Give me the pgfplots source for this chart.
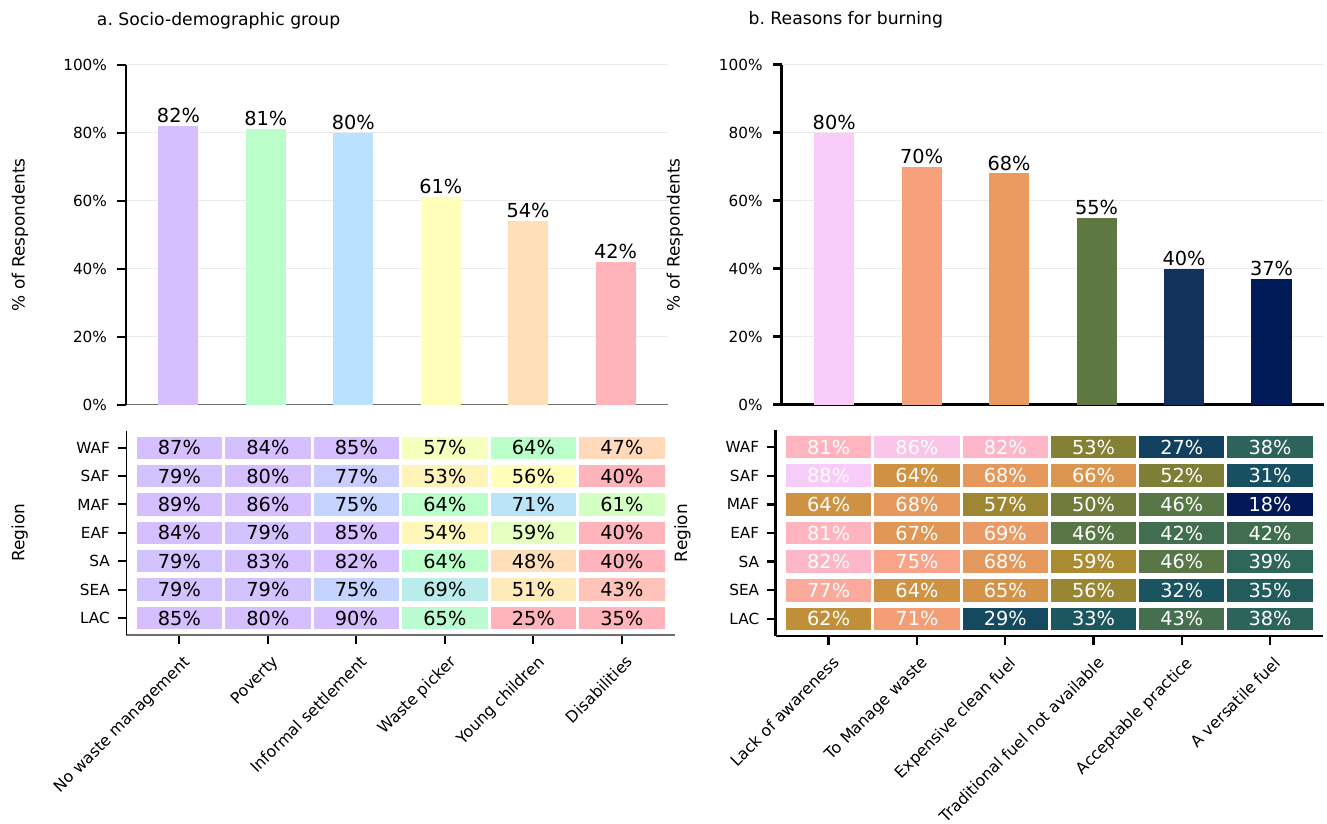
\documentclass[border=0pt]{standalone}
\usepackage{fontspec}
\setmainfont{DejaVu Sans}
\usepackage{pgfplots}
\pgfplotsset{compat=1.18}
\frenchspacing

% bar colours
\definecolor{barA1}{RGB}{213,191,255}
\definecolor{barA2}{RGB}{186,255,201}
\definecolor{barA3}{RGB}{186,225,255}
\definecolor{barA4}{RGB}{255,255,186}
\definecolor{barA5}{RGB}{255,223,186}
\definecolor{barA6}{RGB}{255,179,186}
\definecolor{barB1}{RGB}{248,204,248}
\definecolor{barB2}{RGB}{246,160,124}
\definecolor{barB3}{RGB}{233,154,92}
\definecolor{barB4}{RGB}{94,120,66}
\definecolor{barB5}{RGB}{16,50,91}
\definecolor{barB6}{RGB}{1,26,88}
\definecolor{gridgray}{RGB}{234,234,234}
\definecolor{spinegray}{RGB}{110,110,110}

\pgfplotsset{
  /pgf/number format/assume math mode=true,
  colormap={pastel}{rgb255(0cm)=(255,179,186) rgb255(40cm)=(255,179,186)
    rgb255(48cm)=(255,223,186) rgb255(56cm)=(255,255,186) rgb255(64cm)=(186,255,201)
    rgb255(72cm)=(186,225,255) rgb255(80cm)=(213,191,255) rgb255(100cm)=(213,191,255)},
  colormap={burn}{rgb255(18cm)=(1,25,89) rgb255(25cm)=(14,58,93) rgb255(32cm)=(25,84,96)
    rgb255(39cm)=(47,102,90) rgb255(46cm)=(88,118,70) rgb255(53cm)=(132,128,52)
    rgb255(60cm)=(178,141,48) rgb255(64cm)=(207,146,66) rgb255(67cm)=(224,150,84)
    rgb255(71cm)=(244,158,118) rgb255(75cm)=(249,163,136) rgb255(81cm)=(255,180,192)
    rgb255(88cm)=(248,204,248)},
  panel/.style={scale only axis, anchor=south west,
    axis x line*=bottom, axis y line*=left, axis line style={-},
    tick align=outside, major tick length=6.2pt,
    xmin=-0.6, xmax=5.6, clip=false,
    ticklabel style={font=\fontsize{11}{13}\selectfont},
    ylabel style={font=\fontsize{12.2}{14}\selectfont, anchor=center}},
  thinpanel/.style={y axis line style={black, line width=0.95pt},
    x axis line style={spinegray, line width=0.75pt},
    tick style={black, line width=1.44pt}},
  thickpanel/.style={axis line style={black, line width=1.8pt},
    tick style={black, line width=1.8pt}},
  barpanel/.style={panel, ymin=0, ymax=100, ytick={0,20,...,100},
    yticklabels={0\%,20\%,40\%,60\%,80\%,100\%}, xtick=\empty,
    yticklabel style={anchor=east, inner sep=0pt, xshift=-7.3pt},
    ymajorgrids, grid style={gridgray, line width=0.72pt},
    ybar, bar width=0.458, bar shift=0pt,
    ylabel={\% of Respondents},
    nodes near coords={\pgfmathprintnumber{\pgfplotspointmeta}\%},
    every node near coord/.append style={font=\fontsize{13.9}{16}\selectfont,
      inner sep=0pt, yshift=2pt, text=black}},
  % regions top to bottom: the matrix plot reverses the y direction
  heatpanel/.style={panel, ymin=-0.6, ymax=6.6, ytick={0,...,6},
    yticklabels={WAF,SAF,MAF,EAF,SA,SEA,LAC}, xtick={0,...,5},
    yticklabel style={anchor=east, inner sep=0pt, xshift=-5.5pt},
    ylabel={Region},
    xticklabel style={rotate=45, anchor=north east, inner sep=0pt,
      font=\fontsize{11.4}{13}\selectfont, xshift=-3.7pt, yshift=-7.1pt}},
  heatcells/.style={matrix plot, mesh/cols=6, mesh/rows=7, point meta=explicit,
    draw=white, line width=2.2pt,
    nodes near coords={\pgfmathprintnumber{\pgfplotspointmeta}\%},
    nodes near coords align={center},
    every node near coord/.append style={font=\fontsize{13.9}{16}\selectfont,
      inner sep=0pt, anchor=center}},
  % white gutters between the rows of cells
  rowgaps/.style={white, line width=4.3pt, forget plot, no marks,
    unbounded coords=jump},
}

\begin{document}
\begin{tikzpicture}
\useasboundingbox (0pt,0pt) rectangle (955.44pt,-593.28pt);

\node[anchor=base west, inner sep=0pt, font=\fontsize{12.4}{14}\selectfont] at (69.62pt,-18.22pt) {a. Socio-demographic group};
\node[anchor=base west, inner sep=0pt, font=\fontsize{12.4}{14}\selectfont] at (538.78pt,-18pt) {b. Reasons for burning};

% ---------- a. share of respondents by group ----------
\begin{axis}[barpanel, thinpanel, at={(90.72pt,-291.38pt)},
    width=390.24pt, height=244.8pt,
    ylabel style={at={(axis description cs:-0.1956,0.5)}}]
  \addplot[fill=barA1, draw=none] coordinates {(0,82)};
  \addplot[fill=barA2, draw=none] coordinates {(1,81)};
  \addplot[fill=barA3, draw=none] coordinates {(2,80)};
  \addplot[fill=barA4, draw=none] coordinates {(3,61)};
  \addplot[fill=barA5, draw=none] coordinates {(4,54)};
  \addplot[fill=barA6, draw=none] coordinates {(5,42)};
\end{axis}

% ---------- a. by region ----------
\begin{axis}[heatpanel, thinpanel, at={(90.94pt,-457.2pt)},
    width=395.06pt, height=147.1pt,
    ylabel style={at={(axis description cs:-0.1943,0.5)}},
    xticklabels={No waste management,Poverty,Informal settlement,Waste picker,Young children,Disabilities},
    colormap name=pastel, point meta min=0, point meta max=100]
  \addplot[heatcells, every node near coord/.append style={text=black}] table[x=c, y=r, meta=v] {
c r v
0 0 87
1 0 84
2 0 85
3 0 57
4 0 64
5 0 47
0 1 79
1 1 80
2 1 77
3 1 53
4 1 56
5 1 40
0 2 89
1 2 86
2 2 75
3 2 64
4 2 71
5 2 61
0 3 84
1 3 79
2 3 85
3 3 54
4 3 59
5 3 40
0 4 79
1 4 83
2 4 82
3 4 64
4 4 48
5 4 40
0 5 79
1 5 79
2 5 75
3 5 69
4 5 51
5 5 43
0 6 85
1 6 80
2 6 90
3 6 65
4 6 25
5 6 35
};
  \addplot[rowgaps] coordinates {(-0.55,-0.5) (5.55,-0.5) (nan,nan)
    (-0.55,0.5) (5.55,0.5) (nan,nan) (-0.55,1.5) (5.55,1.5) (nan,nan)
    (-0.55,2.5) (5.55,2.5) (nan,nan) (-0.55,3.5) (5.55,3.5) (nan,nan)
    (-0.55,4.5) (5.55,4.5) (nan,nan) (-0.55,5.5) (5.55,5.5) (nan,nan)
    (-0.55,6.5) (5.55,6.5)};
\end{axis}

% ---------- b. share of respondents by reason ----------
\begin{axis}[barpanel, thickpanel, at={(562.82pt,-291.38pt)},
    width=390.46pt, height=244.8pt,
    ylabel style={at={(axis description cs:-0.1968,0.5)}}]
  \addplot[fill=barB1, draw=none] coordinates {(0,80)};
  \addplot[fill=barB2, draw=none] coordinates {(1,70)};
  \addplot[fill=barB3, draw=none] coordinates {(2,68)};
  \addplot[fill=barB4, draw=none] coordinates {(3,55)};
  \addplot[fill=barB5, draw=none] coordinates {(4,40)};
  \addplot[fill=barB6, draw=none] coordinates {(5,37)};
\end{axis}

% ---------- b. by region ----------
\begin{axis}[heatpanel, thickpanel, at={(558.50pt,-457.92pt)},
    width=394.06pt, height=148.32pt,
    ylabel style={at={(axis description cs:-0.1703,0.5)}},
    xticklabels={Lack of awareness,To Manage waste,Expensive clean fuel,Traditional fuel not available,Acceptable practice,A versatile fuel},
    colormap name=burn, point meta min=18, point meta max=88]
  \addplot[heatcells, every node near coord/.append style={text=white}] table[x=c, y=r, meta=v] {
c r v
0 0 81
1 0 86
2 0 82
3 0 53
4 0 27
5 0 38
0 1 88
1 1 64
2 1 68
3 1 66
4 1 52
5 1 31
0 2 64
1 2 68
2 2 57
3 2 50
4 2 46
5 2 18
0 3 81
1 3 67
2 3 69
3 3 46
4 3 42
5 3 42
0 4 82
1 4 75
2 4 68
3 4 59
4 4 46
5 4 39
0 5 77
1 5 64
2 5 65
3 5 56
4 5 32
5 5 35
0 6 62
1 6 71
2 6 29
3 6 33
4 6 43
5 6 38
};
  \addplot[rowgaps] coordinates {(-0.55,-0.5) (5.55,-0.5) (nan,nan)
    (-0.55,0.5) (5.55,0.5) (nan,nan) (-0.55,1.5) (5.55,1.5) (nan,nan)
    (-0.55,2.5) (5.55,2.5) (nan,nan) (-0.55,3.5) (5.55,3.5) (nan,nan)
    (-0.55,4.5) (5.55,4.5) (nan,nan) (-0.55,5.5) (5.55,5.5) (nan,nan)
    (-0.55,6.5) (5.55,6.5)};
\end{axis}
\end{tikzpicture}
\end{document}
